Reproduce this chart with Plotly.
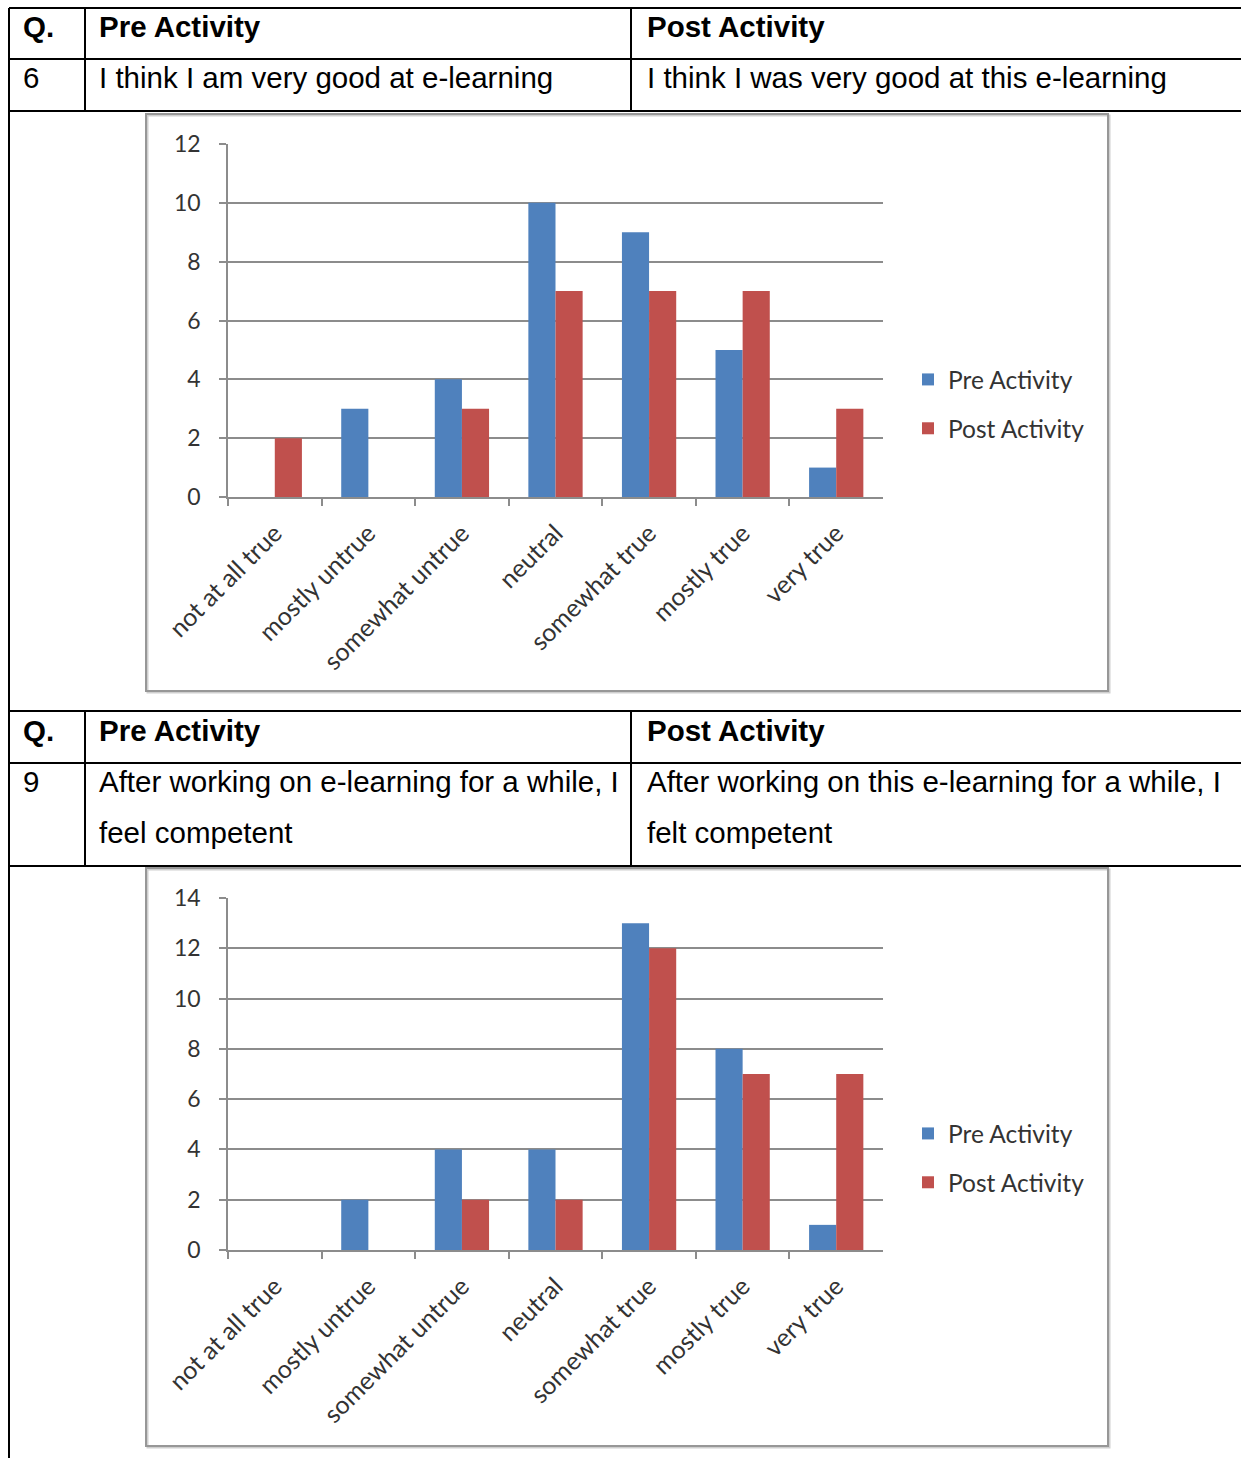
import plotly.graph_objects as go

# ---- data -------------------------------------------------------------
categories = ["not at all true", "mostly untrue", "somewhat untrue", "neutral",
              "somewhat true", "mostly true", "very true"]

q6_pre = [0, 3, 4, 10, 9, 5, 1]
q6_post = [2, 0, 3, 7, 7, 7, 3]

q9_pre = [0, 2, 4, 4, 13, 8, 1]
q9_post = [0, 0, 2, 2, 12, 7, 7]

q6_text = ["6", "I think I am very good at e-learning", "I think I was very good at this e-learning"]
q9_text = ["9", "After working on e-learning for a while, I<br>feel competent",
           "After working on this e-learning for a while, I<br>felt competent"]
header = ["Q.", "Pre Activity", "Post Activity"]

series_names = ["Pre Activity", "Post Activity"]
colors = ["#4F81BD", "#C0504D"]

# ---- page geometry (pixels) ------------------------------------------
W, H = 1241, 1458


def px(x):
    return x / W


def py(y):
    return 1 - y / H


fig = go.Figure()

TABLE_FONT = "Liberation Sans, Arial, sans-serif"
CHART_FONT = "Lato, Carlito, Calibri, sans-serif"
LABEL_COLOR = "#333333"
GRID = "#8c8c8c"

charts = [
    dict(pre=q6_pre, post=q6_post, xa="x", ya="y", legend="legend"),
    dict(pre=q9_pre, post=q9_post, xa="x2", ya="y2", legend="legend2"),
]

for c in charts:
    for name, vals, col in zip(series_names, [c["pre"], c["post"]], colors):
        fig.add_trace(go.Bar(
            x=categories, y=vals, name=name,
            marker=dict(color=col, line=dict(width=0)),
            xaxis=c["xa"], yaxis=c["ya"], legend=c["legend"], legendgroup=name,
        ))

axis_common_x = dict(
    type="category", showgrid=False, showline=True, linecolor=GRID, linewidth=1.5,
    ticks="outside", tickson="boundaries", ticklen=7, tickcolor=GRID, tickwidth=1.5,
    tickangle=-45, tickfont=dict(family=CHART_FONT, size=25, color=LABEL_COLOR),
    ticklabelstandoff=10,
    domain=[px(228), px(883)], fixedrange=True, automargin=False,
)
axis_common_y = dict(
    showgrid=True, gridcolor=GRID, gridwidth=1.5, showline=True, linecolor=GRID,
    linewidth=1.5, ticks="outside", ticklen=7, tickcolor=GRID, tickwidth=1.5,
    dtick=2, tickfont=dict(family=CHART_FONT, size=23, color=LABEL_COLOR),
    ticklabelstandoff=14, zeroline=False, fixedrange=True, automargin=False,
)

legend_common = dict(
    xanchor="left", yanchor="top",
    font=dict(family=CHART_FONT, size=24.5, color=LABEL_COLOR),
    traceorder="grouped", tracegroupgap=14, bgcolor="rgba(0,0,0,0)",
)

fig.update_layout(
    xaxis=dict(axis_common_x, anchor="y"),
    yaxis=dict(axis_common_y, anchor="x", range=[0, 12],
               domain=[py(497), py(144)]),
    xaxis2=dict(axis_common_x, anchor="y2"),
    yaxis2=dict(axis_common_y, anchor="x2", range=[0, 14],
                domain=[py(1250), py(898)]),
    barmode="group", bargap=0.42, bargroupgap=0,
    width=W, height=H, margin=dict(l=0, r=0, t=0, b=0, autoexpand=False),
    paper_bgcolor="white", plot_bgcolor="white",
    legend=dict(legend_common, x=px(908), y=py(357)),
    legend2=dict(legend_common, x=px(908), y=py(1111)),
    showlegend=True,
)

# ---- chart frames ----------------------------------------------------
shapes = []
for (x0, y0, x1, y1) in [(146, 114, 1108, 691), (146, 868, 1108, 1446)]:
    # soft shadow then border
    shapes.append(dict(type="rect", xref="paper", yref="paper",
                       x0=px(x0 + 1.5), y0=py(y0 + 1.5), x1=px(x1 + 1.5), y1=py(y1 + 1.5),
                       line=dict(color="#cfcfcf", width=2), layer="below"))
    shapes.append(dict(type="rect", xref="paper", yref="paper",
                       x0=px(x0), y0=py(y0), x1=px(x1), y1=py(y1),
                       line=dict(color="#979797", width=2), layer="below"))


# ---- table rules -----------------------------------------------------
def hline(y, x0=9, x1=W):
    shapes.append(dict(type="line", xref="paper", yref="paper",
                       x0=px(x0), x1=px(x1), y0=py(y), y1=py(y),
                       line=dict(color="black", width=2)))


def vline(x, y0, y1):
    shapes.append(dict(type="line", xref="paper", yref="paper",
                       x0=px(x), x1=px(x), y0=py(y0), y1=py(y1),
                       line=dict(color="black", width=2)))


for y in [8, 59, 111, 711, 763, 866]:
    hline(y)
vline(9, 8, H)
for x in [85, 631]:
    vline(x, 8, 111)
    vline(x, 711, 866)

fig.update_layout(shapes=shapes)

# ---- table text ------------------------------------------------------
annotations = []
col_x = [22, 98, 646]


def cell(x, y, text, bold=False):
    annotations.append(dict(
        xref="paper", yref="paper", x=px(x), y=py(y), xanchor="left", yanchor="middle",
        text=f"<b>{text}</b>" if bold else text, showarrow=False, align="left",
        borderpad=0, font=dict(family=TABLE_FONT, size=29.5, color="black"),
    ))


for x, t in zip(col_x, header):
    cell(x, 27, t, bold=True)
    cell(x, 730, t, bold=True)
for x, t in zip(col_x, q6_text):
    cell(x, 78, t)
for x, t in zip(col_x, q9_text):
    lines = t.split("<br>")
    for i, line in enumerate(lines):
        cell(x, 781 + 51 * i, line)

fig.update_layout(annotations=annotations)

fig.write_html("out.html")
